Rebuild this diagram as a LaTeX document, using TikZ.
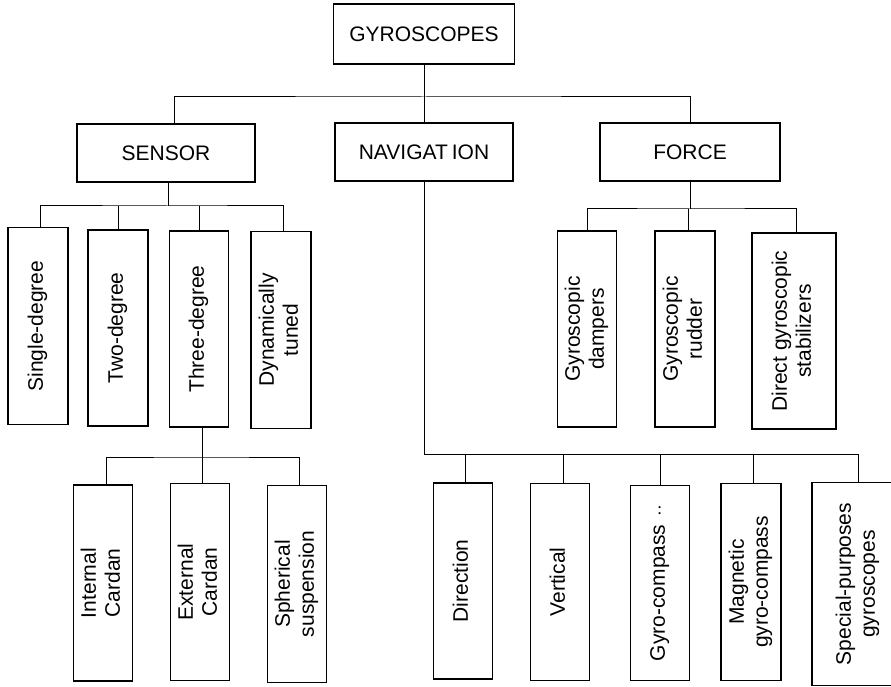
\documentclass[tikz,border=0pt]{standalone}
\usepackage{fontspec}
\setmainfont{Liberation Sans}
\usepackage{graphicx}
\usepackage{tikz}
\newcommand{\vtext}[1]{\rotatebox{90}{\begin{tabular}{@{}c@{}}#1\end{tabular}}}
\tikzset{
  box/.style={draw, line width=1.2pt, inner sep=0pt, align=center, font=\fontsize{21}{24}\selectfont},
  hbox/.style={box, minimum width=178pt, minimum height=58pt},
  vbox/.style={box, minimum width=59pt, minimum height=196pt},
  link/.style={line width=1pt}
}
\begin{document}
\begin{tikzpicture}[x=1pt,y=-1pt]
    \fill[white] (0,0) rectangle (891,687);
    \useasboundingbox (0,0) rectangle (891,687);
    % top
    \node[hbox, minimum width=181pt, minimum height=60pt] (gyro) at (424,34) {GYROSCOPES};
    % row1
    \node[hbox] (sensor) at (166,153) {SENSOR};
    \node[hbox] (nav) at (424,152) {NAVIGAT\hspace{4pt}ION};
    \node[hbox, minimum width=180pt] (force) at (690,152) {FORCE};
    % row2 : sensor types
    \node[vbox, minimum width=60pt, minimum height=197pt] (single) at (38,326) {\vtext{Single-degree}};
    \node[vbox, minimum width=60pt] (two) at (118,328) {\vtext{Two-degree}};
    \node[vbox] (three) at (199,329) {\vtext{Three-degree}};
    \node[vbox, minimum width=60pt, minimum height=197pt] (dyn) at (281,330) {\vtext{Dynamically\\tuned}};
    % row2 : force types
    \node[vbox] (damp) at (587,329) {\vtext{Gyroscopic\\dampers}};
    \node[vbox, minimum width=60pt] (rudder) at (685,329) {\vtext{Gyroscopic\\rudder}};
    \node[vbox, minimum width=84pt] (direct) at (794,331) {\vtext{Direct gyroscopic\\stabilizers}};
    % row3 : suspensions
    \node[vbox] (internal) at (103,583) {\vtext{Internal\\Cardan}};
    \node[vbox, minimum height=197pt] (external) at (200,582) {\vtext{External\\Cardan}};
    \node[vbox, minimum height=197pt] (spherical) at (297,584) {\vtext{Spherical\\suspension}};
    % row3 : navigation types
    \node[vbox] (direction) at (463,581) {\vtext{Direction}};
    \node[vbox, minimum height=197pt] (vertical) at (560,582) {\vtext{Vertical\hspace{26pt}}};
    \node[vbox, minimum height=195pt] (gyrocomp) at (660,583) {\vtext{Gyro-compass\hspace{8pt}$\cdot\cdot$\hspace{60pt}}};
    \node[vbox, minimum width=60pt, minimum height=197pt] (magnetic) at (751,582) {\vtext{Magnetic\\gyro-compass}};
    \node[vbox, minimum width=92pt, minimum height=203pt] (special) at (858,584) {\vtext{Special-purposes\\gyroscopes}};
    % bars
    \coordinate (g-bar) at (424,97);
    \coordinate (s-bar) at (168,206);
    \coordinate (f-bar) at (690,209);
    \coordinate (t-bar) at (200,457);
    \coordinate (n-bar) at (858,454);
    % links
    \draw[link] (gyro.south) -- (g-bar);
    \draw[link] ([xshift=8pt]sensor.north) |- (g-bar) -| (force.north);
    \draw[link] (nav.north) -- (nav.north |- g-bar);
    \draw[link] ([xshift=2pt]sensor.south) -- (s-bar);
    \draw[link] ([xshift=2pt]single.north) |- (s-bar) -| ([xshift=2pt]dyn.north);
    \draw[link] (two.north) -- (two.north |- s-bar);
    \draw[link] (three.north) -- (three.north |- s-bar);
    \draw[link] (force.south) -- (f-bar);
    \draw[link] (damp.north) |- (f-bar) -| ([xshift=2pt]direct.north);
    \draw[link] ([xshift=3pt]rudder.north) -- ([xshift=3pt]rudder.north |- f-bar);
    \draw[link] ([xshift=3pt]three.south) -- ([xshift=3pt]three.south |- t-bar);
    \draw[link] ([xshift=3pt]internal.north) |- (t-bar) -| ([xshift=2pt]spherical.north);
    \draw[link] ([xshift=2pt]external.north) -- ([xshift=2pt]external.north |- t-bar);
    \draw[link] (nav.south) |- (n-bar) -- (special.north);
    \draw[link] ([xshift=2pt]direction.north) -- ([xshift=2pt]direction.north |- n-bar);
    \draw[link] ([xshift=3pt]vertical.north) -- ([xshift=3pt]vertical.north |- n-bar);
    \draw[link] (gyrocomp.north) -- (gyrocomp.north |- n-bar);
    \draw[link] ([xshift=2pt]magnetic.north) -- ([xshift=2pt]magnetic.north |- n-bar);
\end{tikzpicture}
\end{document}
